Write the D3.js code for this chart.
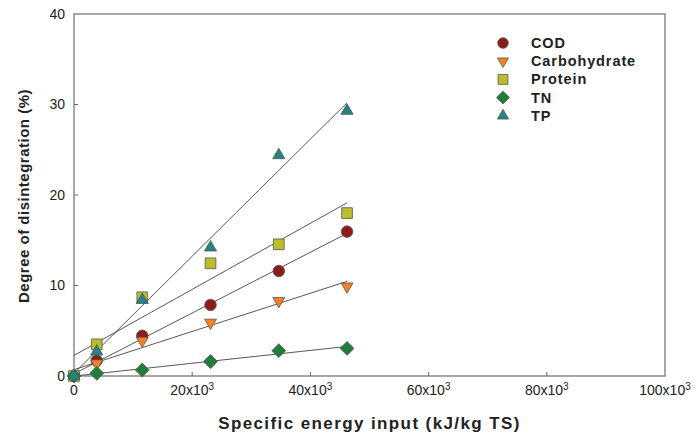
<!DOCTYPE html>
<html>
  <head>
    <meta charset="utf-8">
    <title>Degree of disintegration</title>
    <script src="https://cdn.jsdelivr.net/npm/d3@7"></script>
    <style media="screen">
      body { margin: 0; background: #fff; }
      svg { display: block; font-family: "Liberation Sans", Arial, sans-serif; }
      .tick-label { font-size: 14px; fill: #222; }
      .axis-title { font-weight: bold; fill: #222; }
      .legend text { font-size: 14.5px; font-weight: bold; fill: #222; letter-spacing: 0.9px; }
      .fit { stroke: #444; stroke-width: 0.9; fill: none; }
      .mark { stroke: #555; stroke-width: 0.8; }
    </style>
  </head>
  <body>
    <script type="text/javascript">

    // energy input, kJ/kg TS
    const energy = [0, 3850, 11550, 23100, 34650, 46200];

    const cod          = [0, 1.7, 4.45, 7.85, 11.6, 15.95];
    const carbohydrate = [0, 1.4, 3.9, 5.9, 8.3, 9.9];
    const protein      = [0, 3.5, 8.7, 12.45, 14.55, 18.0];
    const tn           = [0, 0.3, 0.66, 1.6, 2.8, 3.05];
    const tp           = [0, 2.7, 8.4, 14.2, 24.4, 29.3];

    const xTicks = [0, 20000, 40000, 60000, 80000, 100000];
    const yTicks = [0, 10, 20, 30, 40];

    const series = [
      {name: "COD", values: cod, symbol: "circle", color: "#8c1c1c", size: 105},
      {name: "Carbohydrate", values: carbohydrate, symbol: "down", color: "#f58026", size: 62},
      {name: "Protein", values: protein, symbol: "square", color: "#bcbd2b", size: 115},
      {name: "TN", values: tn, symbol: "diamond", color: "#1f7f3a", size: 96},
      {name: "TP", values: tp, symbol: "up", color: "#1f8585", size: 64}
    ];

    let margin = {top: 14, right: 31, left: 74, bottom: 63},
        width = 696 - margin.left - margin.right,
        height = 439 - margin.top - margin.bottom;

    var svg = d3.select("body").append("svg")
      .attr("width", 696)
      .attr("height", 439)
      .append("g")
      .attr("transform", "translate(" + margin.left + "," + margin.top + ")");

    var x = d3.scaleLinear().domain([0, 100000]).range([0, width]);
    var y = d3.scaleLinear().domain([0, 40]).range([height, 0]);

    // frame
    svg.append("rect")
      .attr("width", width).attr("height", height)
      .attr("fill", "none").attr("stroke", "#8a8a8a").attr("stroke-width", 1.5);

    // ticks pointing inward
    svg.selectAll(".xtick").data(xTicks.slice(1, -1)).enter().append("line")
      .attr("x1", d => x(d)).attr("x2", d => x(d))
      .attr("y1", height).attr("y2", height - 4)
      .attr("stroke", "#666");
    svg.selectAll(".ytick").data(yTicks.slice(1, -1)).enter().append("line")
      .attr("x1", 0).attr("x2", 4)
      .attr("y1", d => y(d)).attr("y2", d => y(d))
      .attr("stroke", "#666");

    // x tick labels with superscript
    let xl = svg.selectAll(".xl").data(xTicks).enter().append("text")
      .attr("class", "tick-label")
      .attr("x", d => x(d))
      .attr("y", height + 19)
      .attr("text-anchor", "middle");
    xl.each(function(d) {
      let t = d3.select(this);
      if (d === 0) { t.text("0"); return; }
      t.append("tspan").text((d / 1000) + "x10");
      t.append("tspan").attr("dy", -5).style("font-size", "10px").text("3");
    });

    svg.selectAll(".yl").data(yTicks).enter().append("text")
      .attr("class", "tick-label")
      .attr("x", -9)
      .attr("y", d => y(d))
      .attr("dy", "0.35em")
      .attr("text-anchor", "end")
      .text(d => d);

    // axis titles
    svg.append("text")
      .attr("class", "axis-title")
      .attr("x", width / 2)
      .attr("y", height + 53)
      .attr("text-anchor", "middle")
      .style("font-size", "17px")
      .style("letter-spacing", "1.4px")
      .text("Specific energy input (kJ/kg TS)");

    svg.append("text")
      .attr("class", "axis-title")
      .attr("transform", "rotate(-90)")
      .attr("x", -182)
      .attr("y", -45)
      .attr("text-anchor", "middle")
      .style("font-size", "15px")
      .style("letter-spacing", "0.5px")
      .text("Degree of disintegration (%)");

    // least squares fit lines
    function fit(vals) {
      let mx = d3.mean(energy), my = d3.mean(vals);
      let sxy = d3.sum(energy, (e, i) => (e - mx) * (vals[i] - my));
      let sxx = d3.sum(energy, e => (e - mx) * (e - mx));
      let b = sxy / sxx;
      return {b: b, a: my - b * mx};
    }

    let line = d3.line().x(d => x(d[0])).y(d => y(d[1]));
    let xEnd = d3.max(energy);

    series.forEach(s => {
      let f = fit(s.values);
      svg.append("path").attr("class", "fit")
        .attr("d", line([[0, f.a], [xEnd, f.a + f.b * xEnd]]));
    });

    const shapes = {
      circle: [d3.symbolCircle, ""],
      square: [d3.symbolSquare, ""],
      diamond: [d3.symbolSquare, " rotate(45)"],
      up: [d3.symbolTriangle, ""],
      down: [d3.symbolTriangle, " rotate(180)"]
    };

    function symbolPath(s, k) {
      return d3.symbol().type(shapes[s.symbol][0]).size(s.size * (k || 1))();
    }

    series.forEach(s => {
      svg.append("g").selectAll("path")
        .data(s.values).enter().append("path")
        .attr("class", "mark")
        .attr("d", symbolPath(s))
        .attr("fill", s.color)
        .attr("transform", (d, i) => "translate(" + x(energy[i]) + "," + y(d) + ")" + shapes[s.symbol][1]);
    });

    // legend
    let legend = svg.append("g").attr("class", "legend")
      .attr("transform", "translate(" + (503 - margin.left) + "," + (43 - margin.top) + ")");
    let row = legend.selectAll("g").data(series).enter().append("g")
      .attr("transform", (d, i) => "translate(0," + (i * 18.2) + ")");
    row.append("path")
      .attr("class", "mark")
      .attr("d", d => symbolPath(d, 0.85))
      .attr("fill", d => d.color)
      .attr("transform", d => shapes[d.symbol][1] || null);
    row.append("text")
      .attr("x", 28)
      .attr("dy", "0.35em")
      .text(d => d.name);
    </script>
  </body>
</html>
